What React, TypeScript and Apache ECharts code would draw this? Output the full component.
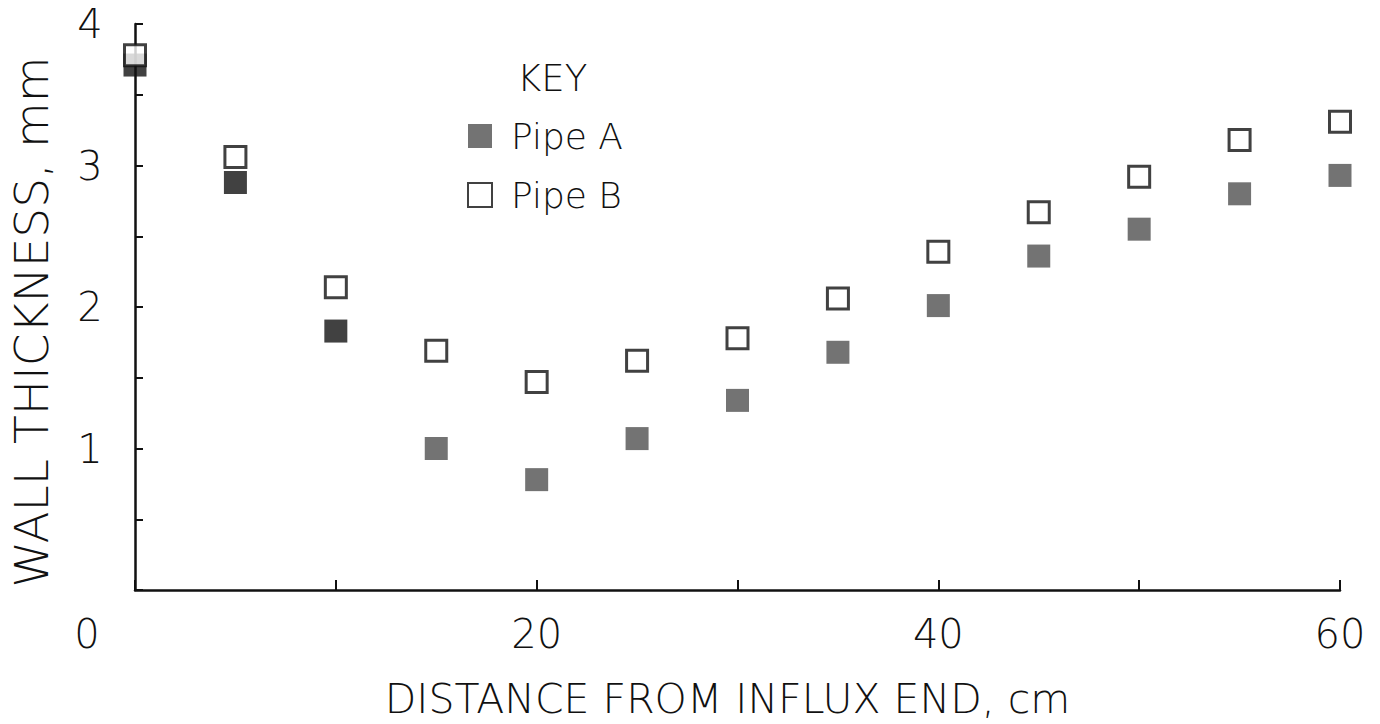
import React, { useEffect, useRef } from "react";
import * as echarts from "echarts";

// Distance from the influx end (cm) and measured wall thickness (mm)
const distances = [0, 5, 10, 15, 20, 25, 30, 35, 40, 45, 50, 55, 60];
const pipeA = [3.71, 2.88, 1.83, 1.0, 0.78, 1.07, 1.34, 1.68, 2.01, 2.36, 2.55, 2.8, 2.93];
const pipeB = [3.78, 3.06, 2.14, 1.69, 1.47, 1.62, 1.78, 2.06, 2.39, 2.67, 2.92, 3.18, 3.31];
// Pipe A points near the inlet were printed in solid black
const pipeADark = [true, true, true, false, false, false, false, false, false, false, false, false, false];

const xTicks = [0, 20, 40, 60];
const yTicks = [1, 2, 3, 4];

const FONT = "'DejaVu Sans', sans-serif";
const INK = "#111111";
const GREY = "#505050";

export default function App() {
  const ref = useRef<HTMLDivElement>(null);

  useEffect(() => {
    if (!ref.current) return;
    const chart = echarts.init(ref.current, null, { renderer: "svg" });

    const dataA = distances.map((d, i) => ({
      value: [d, pipeA[i]],
      itemStyle: { color: pipeADark[i] ? INK : GREY },
    }));
    const dataB = distances.map((d, i) => [d, pipeB[i]]);

    chart.setOption({
      animation: false,
      backgroundColor: "#ffffff",
      title: {
        text: "KEY",
        left: 512,
        top: 55,
        textStyle: { fontFamily: FONT, fontWeight: 300, fontSize: 37, color: INK },
      },
      legend: {
        orient: "vertical",
        left: 462,
        top: 113,
        itemWidth: 24,
        itemHeight: 24,
        itemGap: 23,
        icon: "rect",
        textStyle: {
          fontFamily: FONT,
          fontWeight: 300,
          fontSize: 36,
          lineHeight: 36,
          color: INK,
          padding: [0, 0, 0, 14],
        },
        data: ["Pipe A", "Pipe B"],
      },
      grid: { left: 126, right: 40, top: 24, bottom: 119 },
      xAxis: {
        type: "value",
        min: 0,
        max: 60,
        interval: 10,
        name: "DISTANCE FROM INFLUX END, cm",
        nameLocation: "middle",
        nameGap: 88,
        nameTextStyle: {
          fontFamily: FONT,
          fontWeight: 300,
          fontSize: 41,
          color: INK,
          padding: [0, 20, 0, 0],
        },
        axisLine: { lineStyle: { color: INK, width: 2.5 } },
        axisTick: { inside: true, length: 10, lineStyle: { color: INK, width: 2 } },
        axisLabel: {
          margin: 24,
          fontFamily: FONT,
          fontWeight: 300,
          fontSize: 40,
          color: INK,
          formatter: (v: number) => {
            if (!xTicks.includes(v)) return "";
            return v === 0 ? "{o|0}" : String(v);
          },
          rich: {
            o: { fontFamily: FONT, fontWeight: 300, fontSize: 40, color: INK, padding: [0, 96, 0, 0] },
          },
        },
        splitLine: { show: false },
      },
      yAxis: {
        type: "value",
        min: 0,
        max: 4,
        interval: 0.5,
        name: "WALL THICKNESS, mm",
        nameLocation: "middle",
        nameRotate: 90,
        nameGap: 80,
        nameTextStyle: {
          fontFamily: FONT,
          fontWeight: 300,
          fontSize: 47,
          color: INK,
          padding: [0, 30, 0, 0],
        },
        axisLine: { show: true, lineStyle: { color: INK, width: 2.5 } },
        axisTick: { inside: true, length: 8, lineStyle: { color: INK, width: 2 } },
        axisLabel: {
          margin: 45,
          align: "center",
          fontFamily: FONT,
          fontWeight: 300,
          fontSize: 40,
          color: INK,
          formatter: (v: number) => (yTicks.includes(v) ? String(v) : ""),
        },
        splitLine: { show: false },
      },
      // small break in the printed baseline
      graphic: [
        { type: "rect", left: 202, top: 601, shape: { width: 10, height: 8 }, style: { fill: "#ffffff" }, z: 100 },
      ],
      series: [
        {
          name: "Pipe A",
          type: "scatter",
          symbol: "rect",
          symbolSize: 23,
          clip: false,
          itemStyle: { color: GREY },
          data: dataA,
        },
        {
          name: "Pipe B",
          type: "scatter",
          symbol: "rect",
          symbolSize: 21,
          clip: false,
          itemStyle: { color: "#ffffff", borderColor: INK, borderWidth: 3 },
          data: dataB,
        },
      ],
    });

    return () => chart.dispose();
  }, []);

  return (
    <div
      ref={ref}
      style={{ position: "fixed", left: 0, top: 0, width: 1380, height: 724, background: "#fff" }}
    />
  );
}
